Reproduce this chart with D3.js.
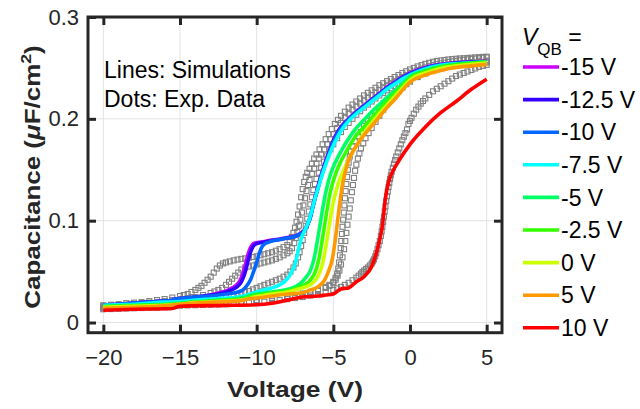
<!DOCTYPE html>
<html>
<head>
<meta charset="utf-8">
<script src="https://cdn.jsdelivr.net/npm/d3@7"></script>
<style>
  body { margin: 0; background: #fff; }
  svg { display: block; font-family: Arial, "Liberation Sans", sans-serif; }
</style>
</head>
<body>
<svg width="640" height="409"></svg>
<script>
// legend / series labels
const vqbLabels = ['-15 V', '-12.5 V', '-10 V', '-7.5 V', '-5 V', '-2.5 V', '0 V', '5 V', '10 V']
const simColors = ['#cc00ff', '#3300ff', '#0066ff', '#00ffff', '#00ff66', '#33ff00', '#ccff00', '#ff9900', '#ff0000']
const xTicks = [-20, -15, -10, -5, 0, 5]
const yTicks = [0, 0.1, 0.2, 0.3]
const yTickLabels = ['0', '0.1', '0.2', '0.3']

// simulations [V, C]
const sim_m15 = [[-20,.0175],[-19,.018],[-18,.019],[-17,.020],[-16,.021],[-15.6,.0215],[-15.3,.023],[-15,.0235],[-14,.025],[-13,.027],[-12.5,.029],[-12,.031],[-11.6,.034],[-11.3,.037],[-11.1,.041],[-10.9,.048],[-10.75,.056],[-10.6,.065],[-10.45,.072],[-10.3,.076],[-10.1,.078],[-9.5,.0795],[-9,.081],[-8.5,.082],[-8,.0835],[-7.5,.085],[-7.2,.087],[-7,.089],[-6.8,.093],[-6.65,.098],[-6.5,.104],[-6.35,.114],[-6.2,.123],[-6.05,.131],[-5.85,.142],[-5.6,.154],[-5.3,.167],[-5,.179],[-4.7,.188],[-4.4,.194],[-4,.200],[-3.5,.207],[-3,.213],[-2.5,.219],[-2,.225],[-1.5,.231],[-1,.236],[-0.5,.241],[0,.245],[1,.2505],[2,.2535],[3,.255],[4,.256],[5,.2565]]
const sim_m12_5 = [[-20,.0175],[-19,.018],[-18,.019],[-17,.020],[-16,.021],[-15.6,.0215],[-15.3,.023],[-15,.0235],[-14,.025],[-13,.027],[-12.5,.028],[-12,.030],[-11.5,.033],[-11.2,.036],[-11,.040],[-10.8,.047],[-10.65,.055],[-10.5,.064],[-10.35,.071],[-10.2,.0755],[-10,.0775],[-9.5,.079],[-9,.0805],[-8.5,.0815],[-8,.083],[-7.5,.0845],[-7.2,.0865],[-7,.0885],[-6.8,.0925],[-6.65,.0975],[-6.5,.1035],[-6.35,.113],[-6.2,.122],[-6.05,.130],[-5.85,.141],[-5.6,.153],[-5.3,.166],[-5,.178],[-4.7,.187],[-4.4,.1935],[-4,.1995],[-3.5,.2065],[-3,.2125],[-2.5,.2185],[-2,.2245],[-1.5,.2305],[-1,.2355],[-0.5,.2405],[0,.2445],[1,.250],[2,.253],[3,.2547],[4,.2557],[5,.2563]]
const sim_m10 = [[-20,.0175],[-19,.018],[-18,.019],[-17,.020],[-16,.021],[-15.6,.0215],[-15.3,.023],[-15,.0235],[-14,.025],[-13,.026],[-12,.028],[-11.5,.029],[-11,.031],[-10.7,.035],[-10.4,.042],[-10.2,.050],[-10,.059],[-9.85,.067],[-9.7,.073],[-9.5,.077],[-9.2,.079],[-9,.080],[-8.5,.0815],[-8,.083],[-7.5,.0845],[-7.2,.0865],[-7,.088],[-6.8,.092],[-6.65,.097],[-6.5,.103],[-6.35,.112],[-6.2,.121],[-6.05,.129],[-5.85,.140],[-5.6,.152],[-5.3,.165],[-5,.177],[-4.7,.186],[-4.4,.193],[-4,.199],[-3.5,.206],[-3,.212],[-2.5,.218],[-2,.224],[-1.5,.230],[-1,.235],[-0.5,.240],[0,.244],[1,.2498],[2,.253],[3,.2545],[4,.2555],[5,.256]]
const sim_m7_5 = [[-20,.017],[-19,.0175],[-18,.018],[-17,.019],[-16,.020],[-15,.0205],[-14,.022],[-13,.023],[-12,.024],[-11,.0255],[-10.4,.028],[-10,.030],[-9.5,.032],[-9,.034],[-8.5,.037],[-8.2,.040],[-7.9,.045],[-7.7,.050],[-7.6,.053],[-7.45,.060],[-7.3,.070],[-7.15,.079],[-7,.086],[-6.85,.091],[-6.7,.096],[-6.55,.102],[-6.4,.110],[-6.25,.119],[-6.1,.127],[-5.95,.134],[-5.75,.144],[-5.5,.155],[-5.2,.167],[-4.9,.177],[-4.5,.188],[-4,.198],[-3.5,.205],[-3,.211],[-2.5,.217],[-2,.223],[-1.5,.229],[-1,.234],[-0.5,.239],[0,.243],[1,.249],[2,.2525],[3,.254],[4,.255],[5,.2558]]
const sim_m5 = [[-20,.016],[-19,.0165],[-18,.017],[-17,.0175],[-16,.018],[-15,.019],[-14,.0205],[-13,.0215],[-12,.0225],[-11,.024],[-10.4,.0265],[-10,.028],[-9,.030],[-8.2,.032],[-7.5,.035],[-7.1,.039],[-6.8,.044],[-6.5,.051],[-6.3,.060],[-6.15,.071],[-6,.084],[-5.9,.093],[-5.75,.107],[-5.6,.120],[-5.4,.134],[-5.2,.145],[-5,.153],[-4.75,.161],[-4.5,.168],[-4.2,.176],[-3.9,.183],[-3.5,.191],[-3,.199],[-2.5,.207],[-2,.214],[-1.5,.221],[-1,.2275],[-0.5,.2345],[0,.2415],[1,.2475],[2,.2515],[3,.2535],[4,.2548],[5,.2558]]
const sim_m2_5 = [[-20,.0155],[-18,.0165],[-16,.0175],[-15,.0185],[-14,.020],[-13,.021],[-12,.022],[-11,.023],[-10,.027],[-9,.029],[-8,.031],[-7.5,.033],[-7,.036],[-6.6,.040],[-6.3,.046],[-6.1,.053],[-5.95,.062],[-5.8,.074],[-5.65,.088],[-5.5,.102],[-5.35,.116],[-5.2,.128],[-5,.139],[-4.8,.148],[-4.55,.157],[-4.3,.164],[-4,.172],[-3.6,.182],[-3,.192],[-2.5,.201],[-2,.209],[-1.5,.217],[-1,.2245],[-0.5,.232],[0,.240],[1,.2465],[2,.2508],[3,.253],[4,.2545],[5,.2555]]
const sim_0 = [[-20,.015],[-18,.016],[-16,.017],[-15,.018],[-14,.0195],[-12,.021],[-11,.022],[-10,.0255],[-9,.028],[-8,.030],[-7.5,.032],[-7,.034],[-6.5,.037],[-6.2,.041],[-5.95,.047],[-5.75,.055],[-5.6,.065],[-5.45,.078],[-5.3,.092],[-5.15,.106],[-5,.118],[-4.8,.130],[-4.6,.140],[-4.35,.149],[-4.1,.157],[-3.8,.166],[-3.4,.176],[-3,.186],[-2.5,.196],[-2,.205],[-1.5,.2135],[-1,.222],[-0.5,.230],[0,.238],[1,.245],[2,.2495],[3,.252],[4,.2535],[5,.2548]]
const sim_5 = [[-20,.014],[-18,.015],[-16,.0165],[-15,.018],[-14,.019],[-12,.0205],[-11,.0215],[-10.4,.0235],[-10,.024],[-9,.026],[-8,.028],[-7.1,.029],[-6.5,.032],[-6,.035],[-5.6,.041],[-5.4,.047],[-5.25,.053],[-5.1,.060],[-5,.068],[-4.9,.078],[-4.8,.090],[-4.7,.103],[-4.6,.115],[-4.5,.126],[-4.4,.136],[-4.25,.146],[-4.1,.155],[-3.9,.163],[-3.6,.171],[-3.3,.178],[-3,.184],[-2.5,.193],[-2,.202],[-1.5,.211],[-1,.219],[-0.5,.228],[0,.236],[1,.243],[2,.2475],[3,.2505],[4,.252],[5,.2535]]
const sim_10 = [[-20,.012],[-18,.013],[-16,.0135],[-15.5,.0138],[-15,.016],[-12,.0168],[-10,.0175],[-9,.019],[-8,.022],[-7,.025],[-6,.026],[-5.5,.027],[-5,.028],[-4.5,.033],[-4,.034],[-3.5,.040],[-3,.045],[-2.5,.055],[-2.2,.068],[-2,.080],[-1.8,.095],[-1.6,.122],[-1.4,.138],[-1.2,.146],[-0.8,.157],[0,.175],[1,.192],[2,.206],[3,.217],[4,.229],[5,.239]]

// experimental data [V, C]
const exp_a = [[-20,.017],[-19.5,.0175],[-19,.018],[-18.5,.019],[-18,.0195],[-17.5,.020],[-17,.021],[-16.5,.022],[-16,.023],[-15.5,.0245],[-15,.026],[-14.75,.027],[-14.5,.028],[-14.25,.030],[-14,.032],[-13.8,.034],[-13.6,.036],[-13.4,.039],[-13.2,.042],[-13,.045],[-12.8,.049],[-12.6,.053],[-12.4,.056],[-12.2,.058],[-12,.059],[-11.75,.060],[-11.5,.061],[-11.25,.0618],[-11,.0625],[-10.75,.063],[-10.5,.0637],[-10.25,.0643],[-10,.065],[-9.75,.066],[-9.5,.067],[-9.25,.068],[-9,.069],[-8.75,.0705],[-8.5,.072],[-8.25,.074],[-8,.076],[-7.85,.079],[-7.7,.084],[-7.6,.088],[-7.5,.093],[-7.4,.099],[-7.3,.106],[-7.2,.114],[-7.1,.123],[-7,.131],[-6.9,.138],[-6.8,.143],[-6.7,.147],[-6.55,.151],[-6.4,.156],[-6.25,.161],[-6.1,.165],[-5.9,.170],[-5.7,.175],[-5.5,.180],[-5.3,.185],[-5.1,.190],[-4.9,.195],[-4.7,.199],[-4.5,.203],[-4.25,.207],[-4,.211],[-3.75,.214],[-3.5,.217],[-3.25,.220],[-3,.223],[-2.75,.2255],[-2.5,.228],[-2.25,.2305],[-2,.233],[-1.75,.235],[-1.5,.237],[-1.25,.239],[-1,.241],[-0.75,.243],[-0.5,.245],[-0.25,.2467],[0,.2485],[0.25,.250],[0.5,.2515],[0.75,.2527],[1,.254],[1.25,.255],[1.5,.256],[1.75,.2567],[2,.2573],[2.25,.2578],[2.5,.2583],[2.75,.2587],[3,.259],[3.25,.2593],[3.5,.2595],[3.75,.2598],[4,.260],[4.25,.2603],[4.5,.2605],[4.75,.2608],[5,.261]]
const exp_b = [[-20,.016],[-19.5,.0165],[-19,.017],[-18.5,.0175],[-18,.018],[-17.5,.019],[-17,.0195],[-16.5,.020],[-16,.021],[-15.5,.022],[-15,.023],[-14.5,.024],[-14,.025],[-13.5,.027],[-13,.029],[-12.75,.0305],[-12.5,.032],[-12.25,.034],[-12,.037],[-11.8,.040],[-11.6,.043],[-11.4,.046],[-11.2,.049],[-11,.052],[-10.75,.054],[-10.5,.055],[-10.25,.056],[-10,.057],[-9.75,.058],[-9.5,.059],[-9.25,.060],[-9,.061],[-8.75,.0625],[-8.5,.064],[-8.25,.066],[-8,.068],[-7.85,.070],[-7.7,.073],[-7.55,.078],[-7.45,.083],[-7.35,.089],[-7.25,.095],[-7.15,.101],[-7.05,.108],[-6.95,.115],[-6.85,.122],[-6.75,.129],[-6.65,.135],[-6.55,.140],[-6.4,.146],[-6.25,.151],[-6.1,.156],[-5.95,.161],[-5.8,.165],[-5.6,.170],[-5.4,.175],[-5.2,.180],[-5,.185],[-4.75,.191],[-4.5,.196],[-4.25,.201],[-4,.205],[-3.75,.209],[-3.5,.212],[-3.25,.215],[-3,.218],[-2.75,.221],[-2.5,.2235],[-2.25,.226],[-2,.2285],[-1.75,.231],[-1.5,.233],[-1.25,.235],[-1,.237],[-0.75,.239],[-0.5,.241],[-0.25,.243],[0,.245],[0.25,.2465],[0.5,.248],[0.75,.2493],[1,.2505],[1.25,.2517],[1.5,.2528],[1.75,.2537],[2,.2545],[2.25,.2552],[2.5,.2559],[2.75,.2565],[3,.257],[3.25,.2575],[3.5,.258],[3.75,.2584],[4,.2588],[4.25,.2592],[4.5,.2596],[4.75,.260],[5,.2603]]
const exp_c = [[-20,.015],[-19.5,.0155],[-19,.016],[-18.5,.0165],[-18,.017],[-17.5,.0175],[-17,.018],[-16.5,.0185],[-16,.019],[-15.5,.0195],[-15,.020],[-14.5,.021],[-14,.022],[-13.5,.023],[-13,.024],[-12.5,.025],[-12,.026],[-11.5,.027],[-11.25,.028],[-11,.029],[-10.75,.030],[-10.5,.031],[-10.25,.0325],[-10,.034],[-9.75,.0355],[-9.5,.037],[-9.25,.0385],[-9,.040],[-8.75,.0415],[-8.5,.043],[-8.25,.045],[-8,.047],[-7.8,.050],[-7.6,.054],[-7.45,.058],[-7.3,.064],[-7.2,.069],[-7.1,.075],[-7,.081],[-6.9,.088],[-6.8,.095],[-6.7,.102],[-6.6,.109],[-6.5,.116],[-6.4,.123],[-6.3,.130],[-6.2,.136],[-6.1,.141],[-5.95,.147],[-5.8,.152],[-5.6,.158],[-5.4,.164],[-5.2,.170],[-5,.175],[-4.75,.181],[-4.5,.187],[-4.25,.192],[-4,.196],[-3.75,.200],[-3.5,.204],[-3.25,.2075],[-3,.211],[-2.75,.214],[-2.5,.217],[-2.25,.220],[-2,.223],[-1.75,.2255],[-1.5,.228],[-1.25,.230],[-1,.232],[-0.75,.234],[-0.5,.236],[-0.25,.238],[0,.240],[0.25,.2415],[0.5,.243],[0.75,.2445],[1,.246],[1.5,.248],[2,.2505],[2.5,.252],[3,.2535],[3.5,.2547],[4,.2557],[4.5,.2565],[5,.2573]]
const exp_d1 = [[-20,.0145],[-19,.015],[-18,.0155],[-17,.016],[-16,.0165],[-15,.0175],[-14,.018],[-13,.0185],[-12,.0195],[-11,.0205],[-10,.022],[-9,.024],[-8,.026],[-7.5,.027],[-7,.0285],[-6.5,.030],[-6,.032],[-5.5,.035],[-5.25,.037],[-5,.040],[-4.85,.044],[-4.75,.048],[-4.68,.053],[-4.62,.059],[-4.57,.066],[-4.52,.073],[-4.48,.080],[-4.44,.087],[-4.4,.094],[-4.36,.101],[-4.32,.108],[-4.28,.115],[-4.24,.122],[-4.2,.129],[-4.15,.136],[-4.1,.143],[-4.05,.150],[-4,.157],[-3.93,.163],[-3.85,.168],[-3.75,.173],[-3.6,.178],[-3.4,.183],[-3.2,.187],[-3,.193],[-2.75,.198],[-2.5,.203],[-2.25,.207],[-2,.211],[-1.75,.215],[-1.5,.218],[-1.25,.2215],[-1,.225],[-0.75,.228],[-0.5,.231],[-0.25,.234],[0,.2365],[0.5,.241],[1,.2445],[1.5,.2475],[2,.2495],[2.5,.251],[3,.2522],[3.5,.2532],[4,.254],[4.5,.2547],[5,.2553]]
const exp_d2 = [[-20,.014],[-19,.0145],[-18,.015],[-17,.0155],[-16,.016],[-15,.017],[-14,.0175],[-13,.018],[-12,.019],[-11,.020],[-10,.021],[-9,.023],[-8,.025],[-7.5,.026],[-7,.027],[-6.5,.029],[-6,.031],[-5.5,.034],[-5.25,.036],[-5,.039],[-4.85,.042],[-4.72,.046],[-4.6,.051],[-4.5,.057],[-4.4,.064],[-4.3,.072],[-4.22,.080],[-4.15,.088],[-4.08,.096],[-4,.104],[-3.93,.112],[-3.86,.120],[-3.79,.128],[-3.72,.135],[-3.65,.142],[-3.58,.149],[-3.5,.155],[-3.4,.161],[-3.3,.166],[-3.2,.171],[-3.05,.176],[-2.9,.181],[-2.7,.186],[-2.5,.191],[-2.25,.197],[-2,.203],[-1.75,.209],[-1.5,.214],[-1.25,.2185],[-1,.223],[-0.75,.227],[-0.5,.231],[-0.25,.2345],[0,.238],[0.5,.2425],[1,.246],[1.5,.249],[2,.251],[2.5,.2525],[3,.2535],[3.5,.2545],[4,.2552],[4.5,.2558],[5,.2563]]
const exp_e = [[-20,.013],[-19.5,.0132],[-19,.0135],[-18.5,.0138],[-18,.014],[-17.5,.0142],[-17,.0145],[-16.5,.0148],[-16,.015],[-15.5,.0158],[-15,.0165],[-14.5,.0168],[-14,.017],[-13.5,.0172],[-13,.0175],[-12.5,.0178],[-12,.018],[-11.5,.0185],[-11,.019],[-10.5,.0195],[-10,.020],[-9.5,.0205],[-9,.021],[-8.5,.022],[-8,.023],[-7.5,.024],[-7,.025],[-6.5,.0265],[-6,.028],[-5.5,.030],[-5,.032],[-4.75,.0335],[-4.5,.035],[-4.25,.037],[-4,.039],[-3.75,.0415],[-3.5,.044],[-3.35,.046],[-3.2,.048],[-3.1,.0495],[-3,.051],[-2.87,.0525],[-2.75,.054],[-2.62,.056],[-2.5,.058],[-2.42,.060],[-2.35,.062],[-2.27,.065],[-2.2,.068],[-2.12,.072],[-2.05,.076],[-1.97,.080],[-1.9,.085],[-1.85,.0895],[-1.8,.094],[-1.75,.099],[-1.7,.104],[-1.65,.109],[-1.6,.114],[-1.55,.1195],[-1.5,.124],[-1.45,.1285],[-1.4,.133],[-1.35,.137],[-1.3,.141],[-1.25,.1445],[-1.2,.148],[-1.12,.152],[-1.05,.156],[-0.97,.1595],[-0.9,.163],[-0.8,.167],[-0.7,.171],[-0.6,.175],[-0.5,.179],[-0.4,.1825],[-0.3,.186],[-0.2,.1895],[-0.1,.195],[0,.198],[0.1,.201],[0.25,.205],[0.4,.209],[0.55,.212],[0.7,.215],[0.85,.2175],[1,.220],[1.25,.2235],[1.5,.227],[1.75,.2295],[2,.232],[2.25,.2345],[2.5,.237],[2.75,.2395],[3,.242],[3.25,.2435],[3.5,.245],[3.75,.2465],[4,.248],[4.25,.2495],[4.5,.251],[4.75,.252],[5,.253]]

const simSeries = [sim_m15, sim_m12_5, sim_m10, sim_m7_5, sim_m5, sim_m2_5, sim_0, sim_5, sim_10]
const expSeries = [exp_a, exp_b, exp_c, exp_d1, exp_d2, exp_e]

function Chart () {
    const svg = d3.select('svg')
    const ink = '#262626'
    const x = d3.scaleLinear().domain([-21, 6]).range([88, 502])
    const y = d3.scaleLinear().domain([-0.01, 0.3]).range([332.7, 17])

    // grid
    const grid = svg.append('g').attr('stroke', '#e3e3e3').attr('stroke-width', 1)
    grid.selectAll('.gx').data(xTicks).enter().append('line')
	.attr('x1', d => x(d)).attr('x2', d => x(d))
	.attr('y1', y.range()[0]).attr('y2', y.range()[1])
    grid.selectAll('.gy').data(yTicks).enter().append('line')
	.attr('y1', d => y(d)).attr('y2', d => y(d))
	.attr('x1', x.range()[0]).attr('x2', x.range()[1])

    // experimental dots: hollow grey squares
    const ms = 5
    expSeries.forEach(function (s) {
	svg.append('g')
	    .selectAll('rect')
	    .data(s)
	    .enter()
	    .append('rect')
	    .attr('x', d => x(d[0]) - ms / 2)
	    .attr('y', d => y(d[1]) - ms / 2)
	    .attr('width', ms)
	    .attr('height', ms)
	    .attr('fill', 'none')
	    .attr('stroke', '#808080')
	    .attr('stroke-width', 1.1)
    })

    // simulation lines
    const line = d3.line()
	.x(d => x(d[0]))
	.y(d => y(d[1]))
	.curve(d3.curveMonotoneX)
    svg.append('g')
	.selectAll('path')
	.data(simSeries)
	.enter()
	.append('path')
	.attr('d', line)
	.attr('fill', 'none')
	.attr('stroke', (d, i) => simColors[i])
	.attr('stroke-width', 3.6)
	.attr('stroke-linejoin', 'round')

    // axes (ticks point inward, box drawn separately)
    const styleAxis = function (g) {
	g.select('.domain').remove()
	g.selectAll('.tick line').attr('stroke', ink).attr('stroke-width', 3)
	g.selectAll('.tick text').attr('fill', ink).style('font-size', '22px').style('font-family', 'Arial, "Liberation Sans", sans-serif')
    }
    svg.append('g')
	.attr('transform', 'translate(0,' + y.range()[0] + ')')
	.call(d3.axisBottom(x).tickValues(xTicks).tickSizeInner(-8).tickSizeOuter(0).tickPadding(17))
	.call(styleAxis)
    svg.append('g')
	.attr('transform', 'translate(0,' + y.range()[1] + ')')
	.call(d3.axisTop(x).tickValues(xTicks).tickSizeInner(-8).tickSizeOuter(0).tickFormat(''))
	.call(styleAxis)
    svg.append('g')
	.attr('transform', 'translate(' + x.range()[0] + ',0)')
	.call(d3.axisLeft(y).tickValues(yTicks).tickSizeInner(-8).tickSizeOuter(0).tickPadding(9)
	      .tickFormat((d, i) => yTickLabels[i]))
	.call(styleAxis)
    svg.append('g')
	.attr('transform', 'translate(' + x.range()[1] + ',0)')
	.call(d3.axisRight(y).tickValues(yTicks).tickSizeInner(-8).tickSizeOuter(0).tickFormat(''))
	.call(styleAxis)
    svg.append('rect')
	.attr('x', x.range()[0]).attr('y', y.range()[1])
	.attr('width', x.range()[1] - x.range()[0])
	.attr('height', y.range()[0] - y.range()[1])
	.attr('fill', 'none')
	.attr('stroke', ink)
	.attr('stroke-width', 3)

    // axis titles (the original text is slightly wide, hence the x-stretch)
    svg.append('text')
	.attr('transform', 'translate(295,397) scale(1.2,1)')
	.attr('text-anchor', 'middle')
	.attr('fill', ink)
	.style('font-size', '22px').style('font-weight', 'bold')
	.text('Voltage (V)')
    const yl = svg.append('text')
	.attr('transform', 'translate(40,177) rotate(-90) scale(1.18,1)')
	.attr('text-anchor', 'middle')
	.attr('fill', ink)
	.style('font-size', '22px').style('font-weight', 'bold')
    yl.append('tspan').text('Capacitance (')
    yl.append('tspan').style('font-style', 'italic').text('\u03bc')
    yl.append('tspan').text('F/cm')
    yl.append('tspan').attr('dy', -9).style('font-size', '15px').text('2')
    yl.append('tspan').attr('dy', 9).text(')')

    // annotation
    svg.append('text').attr('x', 104).attr('y', 78).style('font-size', '23px').text('Lines: Simulations')
    svg.append('text').attr('x', 104).attr('y', 107).style('font-size', '23px').text('Dots: Exp. Data')

    // legend
    const lt = svg.append('text').attr('x', 522).attr('y', 45).style('font-size', '23px')
    lt.append('tspan').style('font-style', 'italic').text('V')
    lt.append('tspan').attr('dy', 10).style('font-size', '17px').text('QB')
    lt.append('tspan').attr('dy', -10).text(' =')
    const rows = svg.append('g')
	.selectAll('g')
	.data(vqbLabels)
	.enter()
	.append('g')
	.attr('transform', (d, i) => 'translate(0,' + (67 + i * 32.6) + ')')
    rows.append('line')
	.attr('x1', 523).attr('x2', 559)
	.attr('stroke', (d, i) => simColors[i])
	.attr('stroke-width', 3.6)
    rows.append('text')
	.attr('x', 561)
	.attr('dy', '0.36em')
	.style('font-size', '23px')
	.text(d => d)
}

Chart()
</script>
</body>
</html>
